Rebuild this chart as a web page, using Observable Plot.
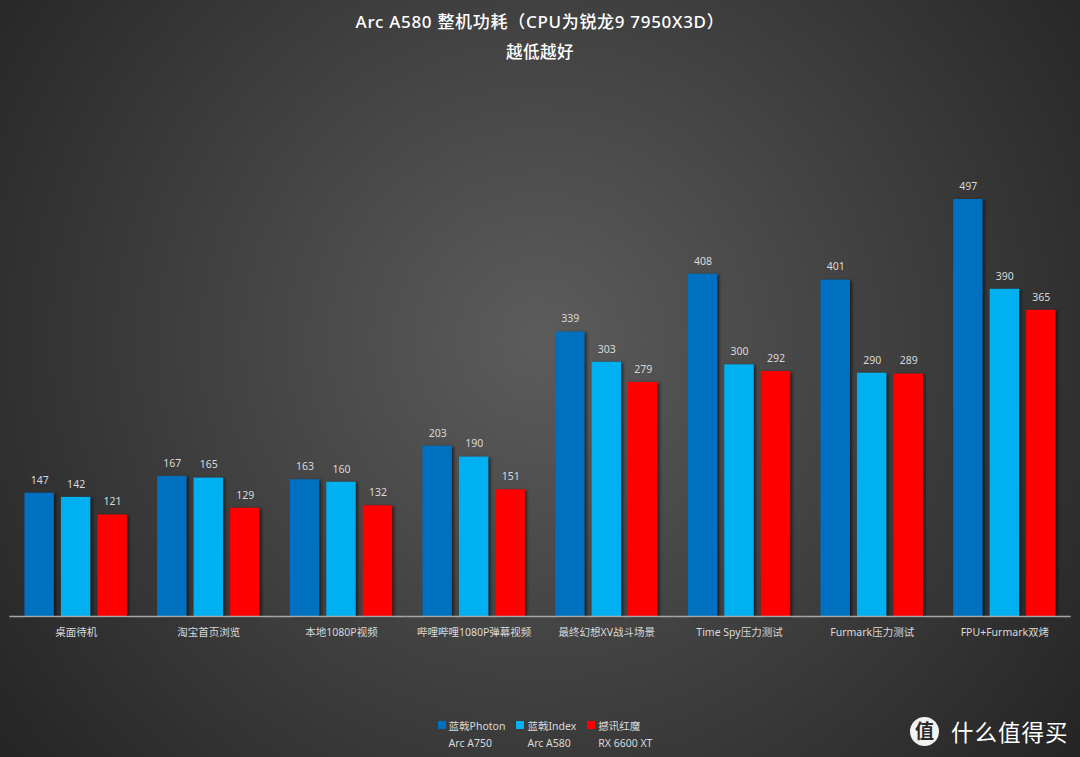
<!DOCTYPE html>
<html>
<head>
<meta charset="utf-8">
<script src="https://cdn.jsdelivr.net/npm/d3@7"></script>
<script src="https://cdn.jsdelivr.net/npm/@observablehq/plot@0.6"></script>
<style>
  html, body { margin: 0; padding: 0; }
  body {
    width: 1080px; height: 757px; overflow: hidden; position: relative;
    background: radial-gradient(circle 660px at 540px 340px, #5c5c5c 0%, #262626 100%);
    font-family: "Noto Sans", "Noto Sans CJK SC", sans-serif;
    color: #d9d9d9;
  }
  #header { height: 70px; text-align: center; color: #ffffff; }
  #title { padding-top: 9px; font-size: 17px; line-height: 26px; letter-spacing: 0.7px; font-weight: 500; }
  #subtitle { padding-top: 5px; font-size: 16.5px; line-height: 24px; letter-spacing: 0.5px; font-weight: 500; }
  #chart { height: 642px; }
  #legend { display: flex; justify-content: center; gap: 11px; font-size: 10.5px; margin-left: 10px; padding-top: 4px; }
  .item { display: flex; flex-direction: column; }
  .row1 { display: flex; align-items: center; height: 18px; }
  .sw { width: 8px; height: 8px; margin-right: 3px; }
  .row2 { padding-left: 11px; height: 18px; line-height: 18px; }
  #wm { position: absolute; left: 910px; top: 715px; display: flex; align-items: center; }
  #wm .c { width: 29px; height: 29px; border-radius: 50%; background: #f2f2f2; color: #2a2a2a;
           font-size: 19px; line-height: 29px; text-align: center; font-weight: bold; }
  #wm .t { color: #ffffff; font-size: 22.5px; margin-left: 12px; letter-spacing: 1px; }
</style>
</head>
<body>
<div id="header">
  <div id="title"></div>
  <div id="subtitle"></div>
</div>
<div id="chart"></div>
<div id="legend"></div>
<div id="wm"><div class="c">值</div><div class="t">什么值得买</div></div>
<script>
const titleText = "Arc A580 整机功耗（CPU为锐龙9 7950X3D）";
const subtitleText = "越低越好";
const categories = ["桌面待机", "淘宝首页浏览", "本地1080P视频", "哔哩哔哩1080P弹幕视频", "最终幻想XV战斗场景", "Time Spy压力测试", "Furmark压力测试", "FPU+Furmark双烤"];
const seriesNames = ["蓝戟Photon", "蓝戟Index", "撼讯红魔"];
const seriesCards = ["Arc A750", "Arc A580", "RX 6600 XT"];
const seriesColors = ["#0070c0", "#00b0f0", "#ff0000"];
const photonValues = [147, 167, 163, 203, 339, 408, 401, 497];
const indexValues = [142, 165, 160, 190, 303, 300, 290, 390];
const redValues = [121, 129, 132, 151, 279, 292, 289, 365];

document.getElementById("title").textContent = titleText;
document.getElementById("subtitle").textContent = subtitleText;

const seriesValues = [photonValues, indexValues, redValues];
const rows = [];
categories.forEach((c, i) => {
  seriesNames.forEach((s, j) => rows.push({category: c, series: s, value: seriesValues[j][i]}));
});

const chart = Plot.plot({
  width: 1080,
  height: 642,
  marginLeft: 9.3,
  marginRight: 9.3,
  marginTop: 126.5,
  marginBottom: 96,
  style: {background: "transparent", color: "#d9d9d9", fontFamily: "'Noto Sans', 'Noto Sans CJK SC', sans-serif", fontSize: "10.5px"},
  fx: {domain: categories, paddingInner: 0, paddingOuter: 0, round: false, axis: "bottom", label: null, tickSize: 0, tickPadding: 12},
  x: {domain: seriesNames, paddingInner: 0.192, paddingOuter: 0.414, round: false, axis: null},
  y: {domain: [0, 500], axis: null},
  color: {domain: seriesNames, range: seriesColors},
  marks: [
    Plot.barY(rows, {fx: "category", x: "series", y: "value", fill: "series"}),
    Plot.text(rows, {fx: "category", x: "series", y: "value", text: d => String(d.value), dy: -13, fill: "#d9d9d9", fontSize: 10.5}),
    Plot.ruleY([0], {stroke: "#a6a6a6", strokeWidth: 1.5})
  ]
});
d3.select(chart).selectAll("g[aria-label='bar'] rect").style("filter", "drop-shadow(2px 1px 1.5px rgba(0,0,0,0.55))");
document.getElementById("chart").appendChild(chart);

const legend = d3.select("#legend");
seriesNames.forEach((s, j) => {
  const it = legend.append("div").attr("class", "item");
  const r1 = it.append("div").attr("class", "row1");
  r1.append("div").attr("class", "sw").style("background", seriesColors[j]);
  r1.append("span").text(s);
  it.append("div").attr("class", "row2").text(seriesCards[j]);
});
</script>
</body>
</html>
